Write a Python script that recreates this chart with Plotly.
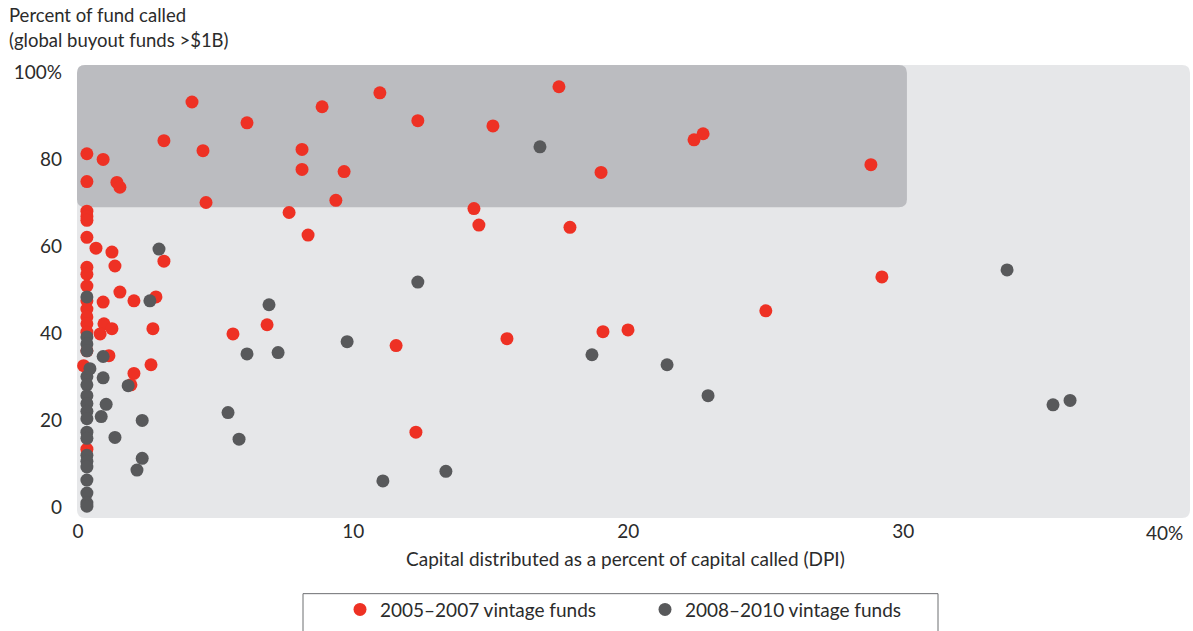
import plotly.graph_objects as go

# ---- data ----
red_name = "2005–2007 vintage funds"
gray_name = "2008–2010 vintage funds"

red_x = [0.32, 0.32, 0.32, 0.32, 0.32, 0.32, 0.32, 0.32, 0.32, 0.32, 0.32, 0.32, 0.32, 0.32, 0.32, 0.2, 0.32,
         0.91, 1.41, 1.52, 4.14, 3.12, 4.54, 6.14, 4.65, 8.14, 8.14, 8.87, 9.67, 10.97, 12.35,
         9.37, 7.67, 8.36, 15.08, 17.48, 14.39, 14.57, 17.88, 19.01, 22.39, 22.72, 28.82,
         29.22, 25.0, 19.99, 19.08, 15.59, 11.56, 12.28, 6.87, 5.63, 3.12, 2.83, 2.72, 2.65,
         2.03, 1.52, 1.34, 1.23, 0.65, 0.91, 0.94, 1.23, 0.80, 1.12, 2.03, 1.92]
red_y = [81.2, 74.8, 68.0, 66.8, 65.9, 62.0, 55.1, 53.5, 50.8, 47.4, 45.5, 43.7, 42.1, 40.2, 35.9, 32.5, 13.3,
         79.9, 74.6, 73.5, 93.1, 84.2, 81.9, 88.3, 70.0, 82.2, 77.6, 92.0, 77.1, 95.2, 88.8,
         70.5, 67.7, 62.5, 87.6, 96.6, 68.6, 64.8, 64.3, 76.9, 84.4, 85.8, 78.7,
         52.9, 45.1, 40.7, 40.3, 38.7, 37.1, 17.2, 41.9, 39.8, 56.5, 48.3, 41.0, 32.7,
         47.4, 49.4, 55.4, 58.6, 59.5, 47.1, 42.1, 41.0, 39.8, 34.8, 30.7, 28.1]

gray_x = [0.32, 0.32, 0.32, 0.32, 0.32, 0.32, 0.32, 0.32, 0.32, 0.32, 0.32, 0.32, 0.32, 0.32, 0.32, 0.32, 0.32,
          0.32, 0.32,
          0.43, 0.91, 0.91, 1.02, 0.84, 1.82, 1.34, 2.33, 2.33, 2.14, 2.94, 2.61, 6.94, 6.14,
          7.27, 9.78, 12.35, 5.45, 5.85, 11.08, 13.37, 16.79, 18.68, 21.41, 22.90, 33.77,
          35.44, 36.06]
gray_y = [48.3, 39.1, 37.5, 35.9, 30.0, 28.1, 25.6, 23.8, 22.0, 20.3, 17.2, 15.8, 11.9, 10.5, 9.2, 6.2, 3.2,
          0.9, 0.2,
          31.8, 34.6, 29.7, 23.6, 20.8, 27.9, 16.0, 19.9, 11.2, 8.5, 59.3, 47.4, 46.5, 35.2,
          35.5, 38.0, 51.7, 21.7, 15.6, 6.0, 8.2, 82.8, 35.0, 32.7, 25.6, 54.5,
          23.5, 24.5]

x_ticks = [0, 10, 20, 30]
x_ticktext = ["0", "10", "20", "30"]
x_last_tick = 40
x_last_text = "40%"
y_ticks = [0, 20, 40, 60, 80, 100]
y_ticktext = ["0", "20", "40", "60", "80", "100%"]
y_title_lines = ["Percent of fund called", "(global buyout funds >$1B)"]
x_title = "Capital distributed as a percent of capital called (DPI)"

# highlighted region (DPI < 30%, called > ~70%)
hl_x = (-0.04, 30.13)
hl_y = (68.9, 101.6)

# ---- styling ----
RED = "#ee3124"
GRAY = "#58595b"
TXT = "#2b2b2b"
FONT = "Lato"
FS = 19
X_RANGE = [-0.04, 40.42]
Y_RANGE = [-2.52, 101.6]


def rounded_path(x0, x1, y0, y1, rx, ry):
    return (f"M {x0+rx},{y0} L {x1-rx},{y0} Q {x1},{y0} {x1},{y0+ry} "
            f"L {x1},{y1-ry} Q {x1},{y1} {x1-rx},{y1} L {x0+rx},{y1} "
            f"Q {x0},{y1} {x0},{y1-ry} L {x0},{y0+ry} Q {x0},{y0} {x0+rx},{y0} Z")


fig = go.Figure()
fig.add_trace(go.Scatter(x=red_x, y=red_y, mode="markers", name=red_name,
                         marker=dict(color=RED, size=13, line=dict(width=0))))
fig.add_trace(go.Scatter(x=gray_x, y=gray_y, mode="markers", name=gray_name,
                         marker=dict(color=GRAY, size=13, line=dict(width=0))))

# page body margin is removed by the post script, so figure px == page px
W, H = 1193, 631
ml, mt = 77, 65
mr = W - 1190
mb = H - 520
pw, ph = W - ml - mr, H - mt - mb
bottom = 520  # page px of plot bottom


def page_y(py):
    return -(py - bottom) / ph


def page_x(px):
    return (px - ml) / pw


shapes = [
    # light background of the plot area
    dict(type="path", xref="paper", yref="paper", layer="below", line=dict(width=0),
         fillcolor="#e6e7e9", path=rounded_path(0, 1, 0, 1, 8 / pw, 8 / ph)),
    # darker highlighted region
    dict(type="path", xref="x", yref="y", layer="below", line=dict(width=0),
         fillcolor="#bbbcc0",
         path=rounded_path(hl_x[0], hl_x[1], hl_y[0], hl_y[1],
                           8 * (X_RANGE[1] - X_RANGE[0]) / pw, 8 * (Y_RANGE[1] - Y_RANGE[0]) / ph)),
    # legend frame
    dict(type="rect", xref="paper", yref="paper", layer="above",
         x0=page_x(303), x1=page_x(938), y0=page_y(596), y1=page_y(645),
         line=dict(color="#6d6e71", width=1), fillcolor="rgba(0,0,0,0)"),
]

annotations = [
    dict(text=y_title_lines[0], xref="paper", yref="paper", x=page_x(7), y=page_y(15),
         xanchor="left", yanchor="middle", showarrow=False,
         font=dict(family=FONT, size=18.5, color=TXT)),
    dict(text=y_title_lines[1], xref="paper", yref="paper", x=page_x(7), y=page_y(40),
         xanchor="left", yanchor="middle", showarrow=False,
         font=dict(family=FONT, size=18.5, color=TXT)),
    dict(text=x_title, xref="paper", yref="paper", x=page_x(625), y=page_y(561),
         xanchor="center", yanchor="middle", showarrow=False,
         font=dict(family=FONT, size=FS, color=TXT)),
    dict(text=x_last_text, xref="x", yref="paper", x=x_last_tick, y=0, xanchor="center",
         yanchor="top", xshift=-14, yshift=-1, showarrow=False,
         font=dict(family=FONT, size=FS, color=TXT)),
]

fig.update_layout(
    width=W, height=H,
    margin=dict(l=ml, r=mr, t=mt, b=mb),
    paper_bgcolor="white", plot_bgcolor="rgba(0,0,0,0)",
    font=dict(family=FONT, size=FS, color=TXT),
    showlegend=True,
    legend=dict(orientation="h", x=page_x(340), xanchor="left",
                y=page_y(612), yanchor="middle",
                font=dict(family=FONT, size=FS, color=TXT),
                bgcolor="rgba(0,0,0,0)", borderwidth=0, entrywidth=260, entrywidthmode="pixels"),
    shapes=shapes, annotations=annotations,
    xaxis=dict(range=X_RANGE, tickvals=x_ticks, ticktext=x_ticktext, showgrid=False, zeroline=False,
               showline=False, ticks="", tickfont=dict(size=FS, color=TXT), automargin=False),
    yaxis=dict(range=Y_RANGE, tickvals=y_ticks, ticktext=y_ticktext, showgrid=False, zeroline=False,
               showline=False, ticks="", tickfont=dict(size=FS, color=TXT), automargin=False,
               ticklabelstandoff=14),
)

fig.write_html("out.html", config={"displayModeBar": False},
               post_script="document.body.style.margin='0';")
